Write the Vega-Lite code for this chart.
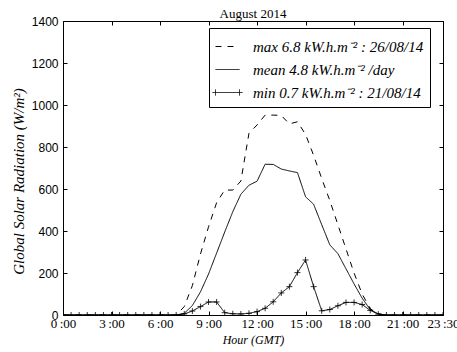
{
  "$schema": "https://vega.github.io/schema/vega-lite/v6.json",
  "width": 380,
  "height": 294,
  "autosize": "none",
  "padding": {"left": 63, "top": 21, "right": 14, "bottom": 37},
  "background": "white",
  "title": {"text": "August 2014", "font": "Liberation Serif", "fontSize": 13, "fontWeight": "normal", "color": "black", "offset": -6, "anchor": "middle"},
  "config": {"view": {"stroke": null}},
  "data": {"values": [
    {"h": 0, "max": 0, "mean": 0, "min": 0},
    {"h": 0.5, "max": 0, "mean": 0, "min": 0},
    {"h": 1, "max": 0, "mean": 0, "min": 0},
    {"h": 1.5, "max": 0, "mean": 0, "min": 0},
    {"h": 2, "max": 0, "mean": 0, "min": 0},
    {"h": 2.5, "max": 0, "mean": 0, "min": 0},
    {"h": 3, "max": 0, "mean": 0, "min": 0},
    {"h": 3.5, "max": 0, "mean": 0, "min": 0},
    {"h": 4, "max": 0, "mean": 0, "min": 0},
    {"h": 4.5, "max": 0, "mean": 0, "min": 0},
    {"h": 5, "max": 0, "mean": 0, "min": 0},
    {"h": 5.5, "max": 0, "mean": 0, "min": 0},
    {"h": 6, "max": 0, "mean": 0, "min": 0},
    {"h": 6.5, "max": 0, "mean": 0, "min": 0},
    {"h": 7, "max": 0, "mean": 0, "min": 0},
    {"h": 7.5, "max": 40, "mean": 8, "min": 5},
    {"h": 8, "max": 140, "mean": 45, "min": 19},
    {"h": 8.5, "max": 290, "mean": 110, "min": 40},
    {"h": 9, "max": 420, "mean": 195, "min": 62},
    {"h": 9.5, "max": 535, "mean": 295, "min": 62},
    {"h": 10, "max": 595, "mean": 395, "min": 11},
    {"h": 10.5, "max": 595, "mean": 492, "min": 6},
    {"h": 11, "max": 638, "mean": 575, "min": 5},
    {"h": 11.5, "max": 865, "mean": 618, "min": 8},
    {"h": 12, "max": 905, "mean": 637, "min": 16},
    {"h": 12.5, "max": 952, "mean": 718, "min": 32},
    {"h": 13, "max": 952, "mean": 717, "min": 63},
    {"h": 13.5, "max": 950, "mean": 695, "min": 105},
    {"h": 14, "max": 910, "mean": 686, "min": 135},
    {"h": 14.5, "max": 920, "mean": 678, "min": 202},
    {"h": 15, "max": 860, "mean": 563, "min": 262},
    {"h": 15.5, "max": 760, "mean": 527, "min": 135},
    {"h": 16, "max": 650, "mean": 430, "min": 20},
    {"h": 16.5, "max": 545, "mean": 334, "min": 26},
    {"h": 17, "max": 430, "mean": 292, "min": 44},
    {"h": 17.5, "max": 315, "mean": 220, "min": 60},
    {"h": 18, "max": 200, "mean": 148, "min": 60},
    {"h": 18.5, "max": 100, "mean": 80, "min": 50},
    {"h": 19, "max": 30, "mean": 26, "min": 22},
    {"h": 19.5, "max": 5, "mean": 5, "min": 4},
    {"h": 20, "max": 0, "mean": 0, "min": 0},
    {"h": 20.5, "max": 0, "mean": 0, "min": 0},
    {"h": 21, "max": 0, "mean": 0, "min": 0},
    {"h": 21.5, "max": 0, "mean": 0, "min": 0},
    {"h": 22, "max": 0, "mean": 0, "min": 0},
    {"h": 22.5, "max": 0, "mean": 0, "min": 0},
    {"h": 23, "max": 0, "mean": 0, "min": 0},
    {"h": 23.5, "max": 0, "mean": 0, "min": 0}
  ]},
  "layer": [
    {
      "transform": [{"fold": ["max", "mean", "min"], "as": ["key", "val"]}],
      "mark": {"type": "line", "clip": true, "color": "black", "strokeWidth": 1},
      "encoding": {
        "x": {"field": "h", "type": "quantitative", "scale": {"domain": [0, 23.5], "nice": false, "zero": false},
          "axis": {"orient": "bottom", "values": [0, 3, 6, 9, 12, 15, 18, 21, 23.5],
            "labelExpr": "floor(datum.value) + '\u2009:' + (datum.value % 1 ? '30' : '00')",
            "labelFont": "Liberation Serif", "labelFontSize": 13, "labelColor": "black",
            "tickSize": -4, "tickColor": "black", "labelPadding": 6, "grid": false,
            "domainColor": "black", "labelFlush": false, "labelOverlap": false, "labelBound": false,
            "title": "Hour (GMT)", "titleFont": "Liberation Serif", "titleFontStyle": "italic", "titleFontWeight": "normal", "titleFontSize": 12, "titleColor": "black", "titlePadding": 4}},
        "y": {"field": "val", "type": "quantitative", "scale": {"domain": [0, 1400], "nice": false},
          "axis": {"orient": "left", "values": [0, 200, 400, 600, 800, 1000, 1200, 1400], "format": "d",
            "labelFont": "Liberation Sans", "labelFontSize": 12, "labelColor": "black",
            "tickSize": -4, "tickColor": "black", "labelPadding": 9, "grid": false, "domainColor": "black",
            "labelFlush": false, "labelOverlap": false,
            "title": "Global Solar Radiation (W/m²)", "titleFont": "Liberation Serif", "titleFontStyle": "italic", "titleFontWeight": "normal", "titleFontSize": 15, "titleColor": "black", "titlePadding": 5, "titleY": 160}},
        "strokeDash": {"field": "key", "type": "nominal",
          "scale": {"domain": ["max", "mean", "min"], "range": [[6, 6], [1, 0], [1, 0]]},
          "legend": {"orient": "none", "legendX": 146, "legendY": 7, "title": null,
            "symbolType": "stroke", "symbolSize": 576, "symbolStrokeWidth": 1, "symbolStrokeColor": "black",
            "labelFont": "Liberation Serif", "labelFontStyle": "italic", "labelFontSize": 15, "labelColor": "black",
            "labelExpr": "datum.value == 'max' ? 'max 6.8 kW.h.m⁻² : 26/08/14' : datum.value == 'mean' ? 'mean 4.8 kW.h.m⁻² /day' : 'min 0.7 kW.h.m⁻² : 21/08/14'",
            "fillColor": "white", "strokeColor": "black", "padding": 6, "rowPadding": 2, "labelOffset": 13, "labelLimit": 400,
            "encode": {"symbols": {"update": {"shape": {"signal": "datum.value == 'min' ? 'M-1.25,0H1.25M-1,-0.25V0.25M1,-0.25V0.25' : 'stroke'"}}}}}}
      }
    },
    {
      "mark": {"type": "point", "shape": "M-1,0H1M0,-1V1", "size": 36, "stroke": "black", "strokeWidth": 0.8, "filled": false, "opacity": 1, "clip": true},
      "encoding": {
        "x": {"field": "h", "type": "quantitative",
          "axis": {"orient": "top", "values": [0, 3, 6, 9, 12, 15, 18, 21, 23.5], "labels": false, "tickSize": -4, "tickColor": "black", "domainColor": "black", "grid": false, "title": null}},
        "y": {"field": "min", "type": "quantitative",
          "axis": {"orient": "right", "values": [0, 200, 400, 600, 800, 1000, 1200, 1400], "labels": false, "tickSize": -4, "tickColor": "black", "domainColor": "black", "grid": false, "title": null}}
      }
    }
  ],
  "resolve": {"axis": {"x": "independent", "y": "independent"}}
}
